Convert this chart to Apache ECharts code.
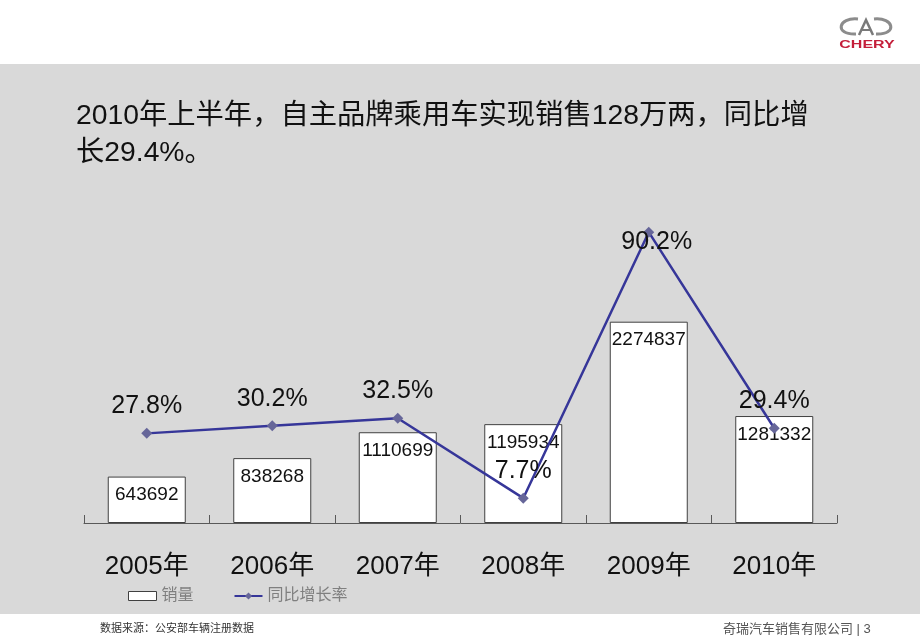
<!DOCTYPE html>
<html>
<head>
<meta charset="utf-8">
<style>
  html, body { margin: 0; padding: 0; background: #ffffff; }
  #chart { width: 920px; height: 637px; }
</style>
<script src="https://cdn.jsdelivr.net/npm/echarts@6.0.0/dist/echarts.min.js"></script>
</head>
<body>
<div id="chart"></div>
<script>
const categories = ['2005年', '2006年', '2007年', '2008年', '2009年', '2010年'];
const salesValues = [643692, 838268, 1110699, 1195934, 2274837, 1281332];
const growthValues = [27.8, 30.2, 32.5, 7.7, 90.2, 29.4];
const seriesNames = ['销量', '同比增长率'];
const titleText = '2010年上半年，自主品牌乘用车实现销售128万两，同比增\n长29.4%。';
const sourceText = '数据来源：公安部车辆注册数据';
const footerText = '奇瑞汽车销售有限公司 | 3';

const FONT = 'Arial, "Liberation Sans", "Noto Sans CJK SC", sans-serif';
const chart = echarts.init(document.getElementById('chart'), null, { renderer: 'canvas' });

const lineData = growthValues.map(function (v, i) {
  if (i === 4) {
    return { value: v, label: { position: 'inside', offset: [8, 10] } };
  }
  return v;
});

const option = {
  backgroundColor: '#ffffff',
  animation: false,
  title: {
    text: titleText,
    left: 76,
    top: 98,
    padding: 0,
    textStyle: {
      fontFamily: FONT,
      fontSize: 28.3,
      fontWeight: 'normal',
      color: '#111111',
      lineHeight: 37
    }
  },
  graphic: [
    { type: 'rect', z: -10, shape: { x: 0, y: 64, width: 920, height: 550 }, style: { fill: '#d9d9d9' }, silent: true },
    { type: 'bezierCurve', z: 10, shape: { x1: 858, y1: 19, cpx1: 838, cpy1: 17, cpx2: 834, cpy2: 35, x2: 856, y2: 34 }, style: { fill: null, stroke: '#8c8c8c', lineWidth: 3 } },
    { type: 'bezierCurve', z: 10, shape: { x1: 874, y1: 19, cpx1: 894, cpy1: 17, cpx2: 898, cpy2: 35, x2: 876, y2: 34 }, style: { fill: null, stroke: '#8c8c8c', lineWidth: 3 } },
    { type: 'polyline', z: 10, shape: { points: [[859, 35], [866, 20], [873, 35]] }, style: { fill: null, stroke: '#7a7a7a', lineWidth: 2.5 } },
    { type: 'line', z: 10, shape: { x1: 862, y1: 30, x2: 870, y2: 30 }, style: { stroke: '#7a7a7a', lineWidth: 2 } },
    { type: 'text', z: 10, x: 867, y: 45, scaleX: 1.6, style: { text: 'CHERY', x: 0, y: 0, fontFamily: FONT, fontSize: 10, fontWeight: 'bold', fill: '#c41e3a', align: 'center', verticalAlign: 'middle' } },
    { type: 'text', z: 10, style: { text: sourceText, x: 100, y: 629, fontFamily: FONT, fontSize: 11, fill: '#333333', align: 'left', verticalAlign: 'middle' } },
    { type: 'text', z: 10, style: { text: footerText, x: 723, y: 629, fontFamily: FONT, fontSize: 13, fill: '#555555', align: 'left', verticalAlign: 'middle' } }
  ],
  legend: {
    left: 128,
    top: 588,
    padding: 0,
    itemWidth: 28,
    itemHeight: 9,
    itemGap: 40,
    textStyle: { fontFamily: FONT, fontSize: 16, color: '#7f7f7f' },
    data: [
      { name: seriesNames[0], icon: 'rect', itemStyle: { color: '#ffffff', borderColor: '#404040', borderWidth: 1 } },
      { name: seriesNames[1] }
    ]
  },
  grid: {
    left: 84,
    right: 83,
    top: 200.6,
    bottom: 114,
    containLabel: false,
    outerBoundsMode: 'none'
  },
  xAxis: {
    type: 'category',
    data: categories,
    boundaryGap: true,
    axisLine: { show: true, lineStyle: { color: '#595959', width: 1 } },
    axisTick: { show: true, inside: true, length: 8, lineStyle: { color: '#595959' } },
    axisLabel: { fontFamily: FONT, fontSize: 26, color: '#111111', margin: 31 },
    splitLine: { show: false }
  },
  yAxis: [
    {
      type: 'value',
      min: 155000,
      max: 3550000,
      startValue: 155000,
      show: false,
      splitLine: { show: false }
    },
    {
      type: 'value',
      min: 0,
      max: 100,
      show: false,
      splitLine: { show: false }
    }
  ],
  series: [
    {
      name: seriesNames[0],
      type: 'bar',
      yAxisIndex: 0,
      data: salesValues,
      barWidth: 78,
      itemStyle: { color: '#ffffff', borderColor: '#404040', borderWidth: 1 },
      label: {
        show: true,
        position: 'insideTop',
        distance: 9,
        fontFamily: FONT,
        fontSize: 19,
        color: '#111111'
      },
      z: 2
    },
    {
      name: seriesNames[1],
      type: 'line',
      yAxisIndex: 1,
      data: lineData,
      symbol: 'diamond',
      symbolSize: 11,
      lineStyle: { color: '#363699', width: 2.5 },
      itemStyle: { color: '#666699' },
      label: {
        show: true,
        position: 'top',
        distance: 9,
        formatter: '{c}%',
        fontFamily: FONT,
        fontSize: 25,
        color: '#111111'
      },
      z: 5
    }
  ]
};

chart.setOption(option);
</script>
</body>
</html>
